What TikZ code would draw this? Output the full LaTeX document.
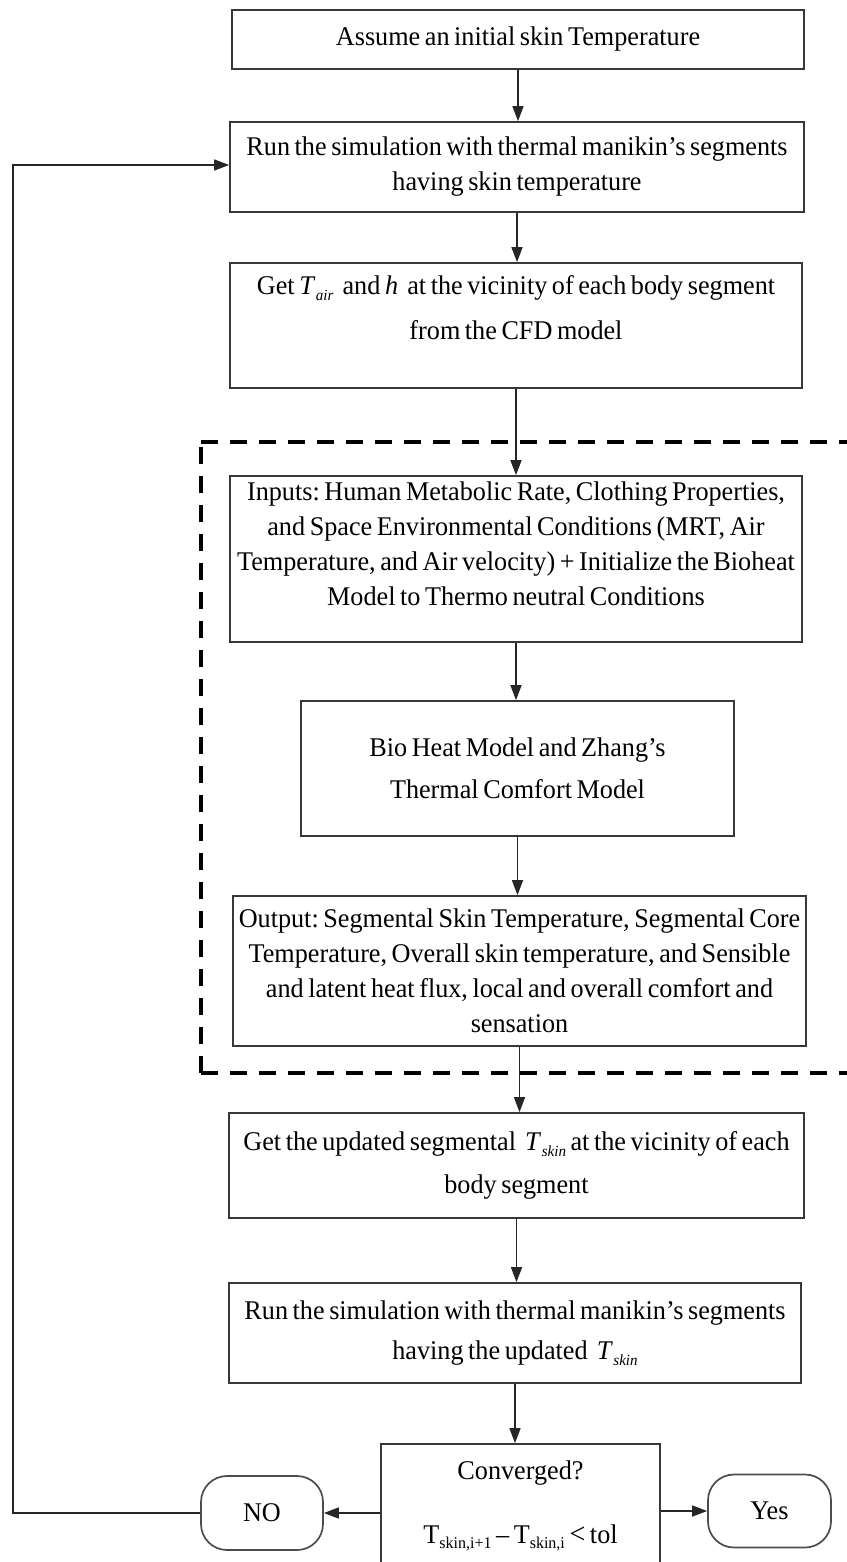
\documentclass[tikz,border=0pt]{standalone}
\usepackage{fontspec}
\setmainfont[WordSpace=0.7,FakeStretch=0.97]{Liberation Serif}
\usetikzlibrary{arrows.meta}
\newcommand{\Tsub}[1]{\textit{T}\kern0.5pt\raisebox{-0.5ex}{\fontsize{15.5}{15.5}\selectfont\itshape #1}}
\newcommand{\Tup}[1]{T\raisebox{-0.45ex}{\fontsize{16.5}{16.5}\selectfont #1}}
\frenchspacing
\begin{document}
\begin{tikzpicture}[x=1pt,y=-1pt,
  box/.style={draw=black!78, line width=1.7pt, fill=white, align=center, inner sep=0pt,
    font=\fontsize{27}{35}\selectfont},
  term/.style={draw=black!70, line width=1.7pt, rounded corners=26pt, align=center, inner sep=0pt,
    font=\fontsize{27}{35}\selectfont},
  txt/.style={align=center, inner sep=0pt, font=\fontsize{27}{35}\selectfont},
  arr/.style={draw=black!85, line width=1.5pt, -{Triangle[length=15pt,width=11pt]}},
  region/.style={draw=black, line width=4pt, dash pattern=on 17pt off 12pt}
]
\useasboundingbox (0,0) rectangle (846,1562);

% dashed grouping frame
\draw[region] (201,442) -- (880,442);
\draw[region] (201,1073) -- (201,442);
\draw[region] (201,1073) -- (880,1073);

\node[box, minimum width=572pt, minimum height=59pt] (b1) at (518,39.5)
  {Assume an initial skin Temperature};
\node[box, minimum width=574pt, minimum height=90pt] (b2) at (517,167)
  {Run the simulation with thermal manikin’s segments\\having skin temperature};
\node[box, minimum width=572pt, minimum height=125pt] (b3) at (516,325.5)
  {Get \Tsub{air}\ \ and \textit{h}\ \ at the vicinity of each body segment\\[10pt]from the CFD model\\[2pt]};
\node[box, minimum width=572pt, minimum height=166pt] (b4) at (516,559)
  {Inputs: Human Metabolic Rate, Clothing Properties,\\
   and Space Environmental Conditions (MRT, Air\\
   Temperature, and Air velocity) + Initialize the Bioheat\\
   Model to Thermo neutral Conditions\\[-4pt]};
\node[box, minimum width=433pt, minimum height=135pt] (b5) at (517.5,768.5)
  {Bio Heat Model and Zhang’s\\[7pt]Thermal Comfort Model};
\node[box, minimum width=573pt, minimum height=150pt] (b6) at (519.5,971)
  {Output: Segmental Skin Temperature, Segmental Core\\
   Temperature, Overall skin temperature, and Sensible\\
   and latent heat flux, local and overall comfort and\\
   sensation};
\node[box, minimum width=575pt, minimum height=105pt] (b7) at (516.5,1165.5)
  {Get the updated segmental\ \ \Tsub{skin} at the vicinity of each\\[8pt]body segment};
\node[box, minimum width=572pt, minimum height=100pt] (b8) at (515,1333)
  {Run the simulation with thermal manikin’s segments\\[5pt]having the updated\ \ \Tsub{skin}};
\node[box, minimum width=279pt, minimum height=160pt] (conv) at (520.5,1524) {};
\node[txt] (convq) at (520.5,1473) {Converged?};
\node[txt] (convf) at (520.5,1538) {\Tup{skin,i+1} -- \Tup{skin,i} {\fontsize{29}{29}\selectfont <} tol};

\node[term, minimum width=122pt, minimum height=74pt] (no) at (262,1513) {NO};
\node[term, minimum width=123pt, minimum height=73pt] (yes) at (769.5,1511) {Yes};

% connectors
\draw[arr] (b1.south) -- (b1.south |- b2.north);
\draw[arr] (b2.south) -- (b2.south |- b3.north);
\draw[arr] (b3.south) -- (b3.south |- b4.north);
\draw[arr] (b4.south) -- (b4.south |- b5.north);
\draw[arr] (b5.south) -- (b5.south |- b6.north);
\draw[arr] (b6.south) -- (b6.south |- b7.north);
\draw[arr] (b7.south) -- (b7.south |- b8.north);
\draw[arr] (b8.south) -- (b8.south |- conv.north);
\draw[arr] (conv.west |- no.east) -- (no.east);
\draw[arr] (conv.east |- yes.west) -- (yes.west);
\coordinate (fb) at (13,165);
\draw[arr] (no.west) -| (fb) -- (fb -| b2.west);
\end{tikzpicture}
\end{document}
